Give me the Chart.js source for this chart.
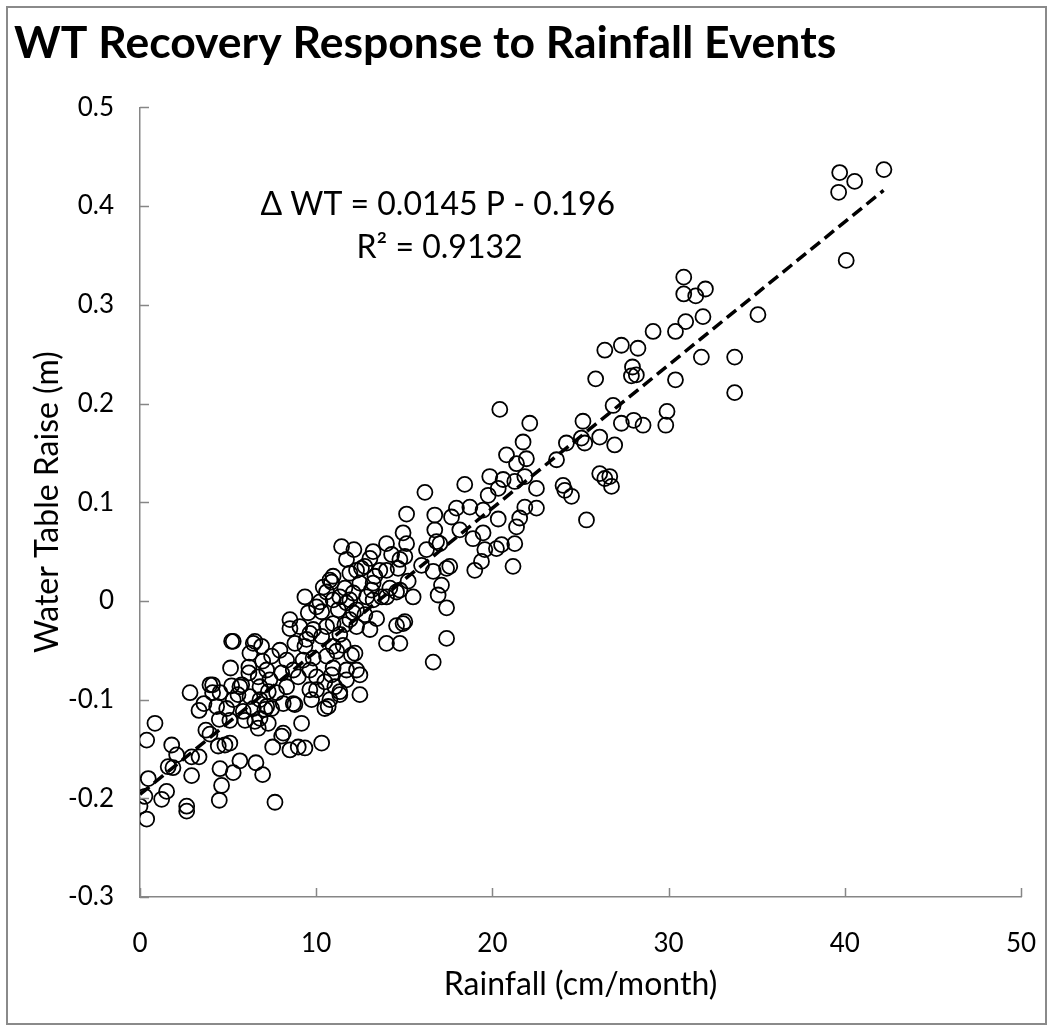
<!DOCTYPE html>
<html>
<head>
<meta charset="utf-8">
<script src="https://cdn.jsdelivr.net/npm/chart.js@4.4.1/dist/chart.umd.min.js"></script>
<style>
  html, body { margin: 0; padding: 0; background: #fff; }
  #wrap { position: relative; width: 1048px; height: 1027px; }
  #frame { position: absolute; left: 6px; top: 6px; right: 1px; bottom: 2px; border: 2px solid #8a8a8a; pointer-events: none; }
</style>
</head>
<body>
<div id="wrap">
  <canvas id="wtChart" width="1048" height="1027"></canvas>
  <div id="frame"></div>
</div>
<script>
// rainfall (cm/month) and water table raise (m)
const rainfall = [
  0.0, 0.38, 0.28, 0.47, 0.38, 0.85, 1.23, 1.51, 1.6, 1.87,
  1.8, 2.08, 2.65, 2.65, 2.93, 2.93, 3.35, 2.84, 3.35, 3.63,
  3.74, 3.97, 4.12, 4.12, 4.44, 4.82, 4.5, 4.54, 4.63, 4.5,
  4.92, 5.1, 5.1, 5.29, 5.2, 5.14, 5.2, 5.56, 5.77, 5.67,
  5.96, 6.18, 6.18, 6.58, 6.71, 6.81, 6.96, 6.96, 7.09, 7.53,
  7.66, 8.04, 8.51, 8.7, 8.98, 9.36, 9.17, 10.31, 8.13, 6.43,
  7.47, 6.81, 7.28, 7.37, 6.71, 8.04, 8.98, 9.64, 8.13, 9.64,
  10.02, 9.74, 10.49, 10.78, 10.49, 10.02, 11.06, 11.34, 12.48, 10.87,
  11.72, 11.72, 12.48, 12.29, 6.24, 6.52, 6.9, 5.29, 6.43, 8.51,
  8.51, 8.79, 9.36, 9.83, 10.59, 11.16, 12.2, 10.96, 9.36, 9.55,
  9.64, 10.21, 10.31, 10.31, 10.96, 11.25, 10.96, 11.34, 11.63, 11.91,
  12.1, 12.29, 12.76, 13.05, 13.43, 13.23, 13.99, 14.18, 14.75, 13.23,
  12.48, 11.63, 10.78, 12.29, 13.61, 14.65, 15.22, 13.05, 11.44, 12.14,
  13.23, 13.99, 15.13, 14.28, 15.03, 16.26, 16.83, 17.4, 16.64, 15.98,
  17.11, 16.92, 17.4, 17.4, 16.64, 15.5, 14.93, 14.56, 14.75, 13.99,
  15.03, 14.93, 15.13, 16.73, 16.73, 17.68, 17.96, 16.17, 17.02, 17.58,
  18.43, 18.72, 18.15, 18.9, 19.0, 19.38, 19.47, 19.47, 19.76, 19.85,
  19.57, 20.23, 20.52, 20.33, 20.33, 20.61, 20.8, 20.42, 21.27, 21.37,
  21.37, 21.27, 21.17, 21.55, 21.84, 21.84, 21.74, 21.93, 22.12, 22.5,
  22.5, 23.64, 24.01, 24.11, 24.49, 24.2, 25.05, 25.24, 25.14, 25.34,
  26.09, 26.09, 26.38, 26.66, 26.76, 26.94, 26.85, 27.32, 28.02, 28.55,
  25.86, 27.95, 27.89, 28.17, 26.38, 27.32, 28.26, 29.12, 30.39, 30.39,
  29.91, 29.84, 30.86, 30.86, 31.54, 32.09, 31.95, 30.97, 31.86, 33.75,
  33.75, 35.07, 39.71, 40.56, 39.65, 42.22, 40.08, 10.59, 10.87, 12.76,
  10.02, 11.72, 11.53, 12.0, 11.34, 10.68, 8.79, 3.97, 9.07, 9.45,
  9.83, 7.94, 8.32, 7.47, 7.19, 8.7, 9.26, 10.96, 10.59, 11.91,
  12.29, 12.86, 5.67, 6.24, 6.81, 5.29, 4.54, 4.35, 5.86, 7.19,
  7.75, 8.32, 6.52, 7.28, 12.57, 13.33, 13.99, 14.75, 13.14, 13.71,
  14.56, 12.1, 11.34, 10.4, 10.96, 11.91, 11.72
];
const wtRaise = [
  -0.208, -0.221, -0.198, -0.180, -0.141, -0.124, -0.201, -0.193, -0.168, -0.169,
  -0.146, -0.156, -0.208, -0.213, -0.177, -0.158, -0.158, -0.093, -0.111, -0.104,
  -0.131, -0.135, -0.085, -0.093, -0.147, -0.146, -0.120, -0.170, -0.187, -0.202,
  -0.109, -0.144, -0.121, -0.174, -0.086, -0.068, -0.041, -0.095, -0.085, -0.162,
  -0.121, -0.067, -0.073, -0.164, -0.129, -0.119, -0.061, -0.176, -0.110, -0.148,
  -0.204, -0.137, -0.151, -0.104, -0.148, -0.149, -0.124, -0.144, -0.134, -0.109,
  -0.109, -0.100, -0.092, -0.080, -0.077, -0.073, -0.077, -0.070, -0.104, -0.090,
  -0.090, -0.100, -0.109, -0.100, -0.082, -0.077, -0.087, -0.092, -0.095, -0.075,
  -0.080, -0.070, -0.075, -0.070, -0.053, -0.041, -0.046, -0.041, -0.043, -0.019,
  -0.028, -0.043, -0.046, -0.058, -0.056, -0.051, -0.053, -0.068, 0.004, -0.012,
  -0.033, -0.001, -0.011, -0.036, 0.001, -0.009, -0.023, -0.034, -0.024, 0.001,
  -0.012, -0.026, -0.014, -0.029, -0.018, 0.001, 0.004, 0.013, 0.011, 0.018,
  0.018, 0.013, 0.021, 0.031, 0.031, 0.033, 0.020, 0.043, 0.055, 0.052,
  0.050, 0.058, 0.058, 0.047, 0.045, 0.052, 0.060, 0.033, 0.030, 0.036,
  0.016, 0.006, -0.007, -0.038, -0.062, 0.004, -0.023, -0.025, -0.043, -0.043,
  -0.021, 0.069, 0.088, 0.087, 0.072, 0.085, 0.094, 0.110, 0.058, 0.035,
  0.118, 0.095, 0.072, 0.063, 0.031, 0.040, 0.069, 0.092, 0.107, 0.126,
  0.052, 0.053, 0.057, 0.083, 0.114, 0.123, 0.148, 0.194, 0.121, 0.139,
  0.075, 0.058, 0.035, 0.084, 0.095, 0.126, 0.161, 0.144, 0.180, 0.114,
  0.094, 0.143, 0.117, 0.112, 0.106, 0.160, 0.165, 0.160, 0.182, 0.082,
  0.166, 0.129, 0.124, 0.126, 0.116, 0.158, 0.198, 0.180, 0.183, 0.178,
  0.225, 0.237, 0.228, 0.229, 0.254, 0.259, 0.256, 0.273, 0.273, 0.224,
  0.192, 0.178, 0.328, 0.311, 0.309, 0.316, 0.288, 0.283, 0.247, 0.247,
  0.211, 0.290, 0.434, 0.425, 0.414, 0.437, 0.345, 0.009, 0.019, 0.035,
  -0.006, -0.002, -0.045, -0.055, -0.095, -0.107, -0.105, -0.085, -0.026, -0.039,
  -0.029, -0.050, -0.060, -0.056, -0.070, -0.070, -0.060, -0.046, -0.026, -0.019,
  -0.009, 0.004, -0.087, -0.097, -0.087, -0.100, -0.093, -0.107, -0.112, -0.107,
  -0.093, -0.087, -0.122, -0.124, 0.033, 0.025, 0.031, 0.042, 0.011, 0.004,
  0.009, 0.008, 0.004, 0.014, 0.025, 0.028, 0.042
];

// linear fit shown on the chart
const fitSlope = 0.0145;
const fitIntercept = -0.196;
const fitRange = [0, 42.2];
const equationLines = ["\u0394 WT = 0.0145 P - 0.196", "R\u00b2 = 0.9132"];

const xTicks = [0, 10, 20, 30, 40, 50];
const yTicks = [-0.3, -0.2, -0.1, 0, 0.1, 0.2, 0.3, 0.4, 0.5];

const points = rainfall.map((p, i) => ({ x: p, y: wtRaise[i] }));
const fitLine = fitRange.map((p) => ({ x: p, y: fitSlope * p + fitIntercept }));

const FONT = "Lato, 'Open Sans', 'Liberation Sans', sans-serif";
const AXIS_GREY = "#868686";

// short tick marks pointing into the plot, like the original
const innerTicks = {
  id: "innerTicks",
  afterDatasetsDraw(chart) {
    const { ctx, scales, chartArea } = chart;
    ctx.save();
    ctx.strokeStyle = AXIS_GREY;
    ctx.lineWidth = 1.5;
    ctx.beginPath();
    xTicks.forEach((v) => {
      const px = Math.round(scales.x.getPixelForValue(v)) + 0.5;
      ctx.moveTo(px, chartArea.bottom);
      ctx.lineTo(px, chartArea.bottom - 9);
    });
    yTicks.forEach((v) => {
      const py = Math.round(scales.y.getPixelForValue(v)) + 0.5;
      ctx.moveTo(chartArea.left, py);
      ctx.lineTo(chartArea.left + 9, py);
    });
    ctx.stroke();
    ctx.restore();
  },
};

// regression equation text
const equationLabel = {
  id: "equationLabel",
  afterDatasetsDraw(chart) {
    const { ctx, scales } = chart;
    ctx.save();
    ctx.fillStyle = "#000";
    ctx.font = "32px " + FONT;
    ctx.textAlign = "center";
    ctx.textBaseline = "middle";
    ctx.fillText(equationLines[0], scales.x.getPixelForValue(16.9), scales.y.getPixelForValue(0.401));
    ctx.fillText(equationLines[1], scales.x.getPixelForValue(17.0), scales.y.getPixelForValue(0.358));
    ctx.restore();
  },
};

const ctx = document.getElementById("wtChart").getContext("2d");

new Chart(ctx, {
  type: "scatter",
  data: {
    datasets: [
      {
        label: "Observed",
        data: points,
        pointStyle: "circle",
        pointRadius: 7.5,
        borderWidth: 1.8,
        borderColor: "#000",
        backgroundColor: "rgba(0,0,0,0)",
        order: 2,
      },
      {
        label: "Linear fit",
        type: "line",
        data: fitLine,
        borderColor: "#000",
        borderWidth: 3.5,
        borderDash: [12, 6],
        pointRadius: 0,
        fill: false,
        order: 1,
      },
    ],
  },
  options: {
    responsive: false,
    animation: false,
    layout: { padding: { left: 14, right: 27, top: 0, bottom: 0 } },
    plugins: {
      legend: { display: false },
      tooltip: { enabled: false },
      title: {
        display: true,
        text: "WT Recovery Response to Rainfall Events",
        align: "start",
        color: "#000",
        font: { family: FONT, size: 44.5, weight: "bold" },
        padding: { top: 17, bottom: 37 },
      },
    },
    scales: {
      x: {
        type: "linear",
        min: 0,
        max: 50,
        afterBuildTicks: (scale) => { scale.ticks = xTicks.map((v) => ({ value: v })); },
        afterFit: (scale) => {
          scale.height = 130;
          scale.paddingLeft = 0;
          scale.paddingRight = 0;
        },
        grid: { display: false },
        border: { display: true, color: AXIS_GREY, width: 1.5 },
        ticks: { color: "#000", font: { family: FONT, size: 26 }, padding: 23 },
        title: {
          display: true,
          text: "Rainfall (cm/month)",
          color: "#000",
          font: { family: FONT, size: 32 },
          padding: { top: 8, bottom: 23 },
        },
      },
      y: {
        type: "linear",
        min: -0.3,
        max: 0.5,
        afterBuildTicks: (scale) => { scale.ticks = yTicks.map((v) => ({ value: v })); },
        afterFit: (scale) => { scale.width = 126; },
        grid: { display: false },
        border: { display: true, color: AXIS_GREY, width: 1.5 },
        ticks: {
          color: "#000",
          font: { family: FONT, size: 26 },
          padding: 18,
          callback: (v) => (Math.abs(v) < 1e-9 ? "0" : String(Math.round(v * 10) / 10)),
        },
        title: {
          display: true,
          text: "Water Table Raise (m)",
          color: "#000",
          font: { family: FONT, size: 32 },
          padding: { top: 14, bottom: 6 },
        },
      },
    },
  },
  plugins: [innerTicks, equationLabel],
});
</script>
</body>
</html>
